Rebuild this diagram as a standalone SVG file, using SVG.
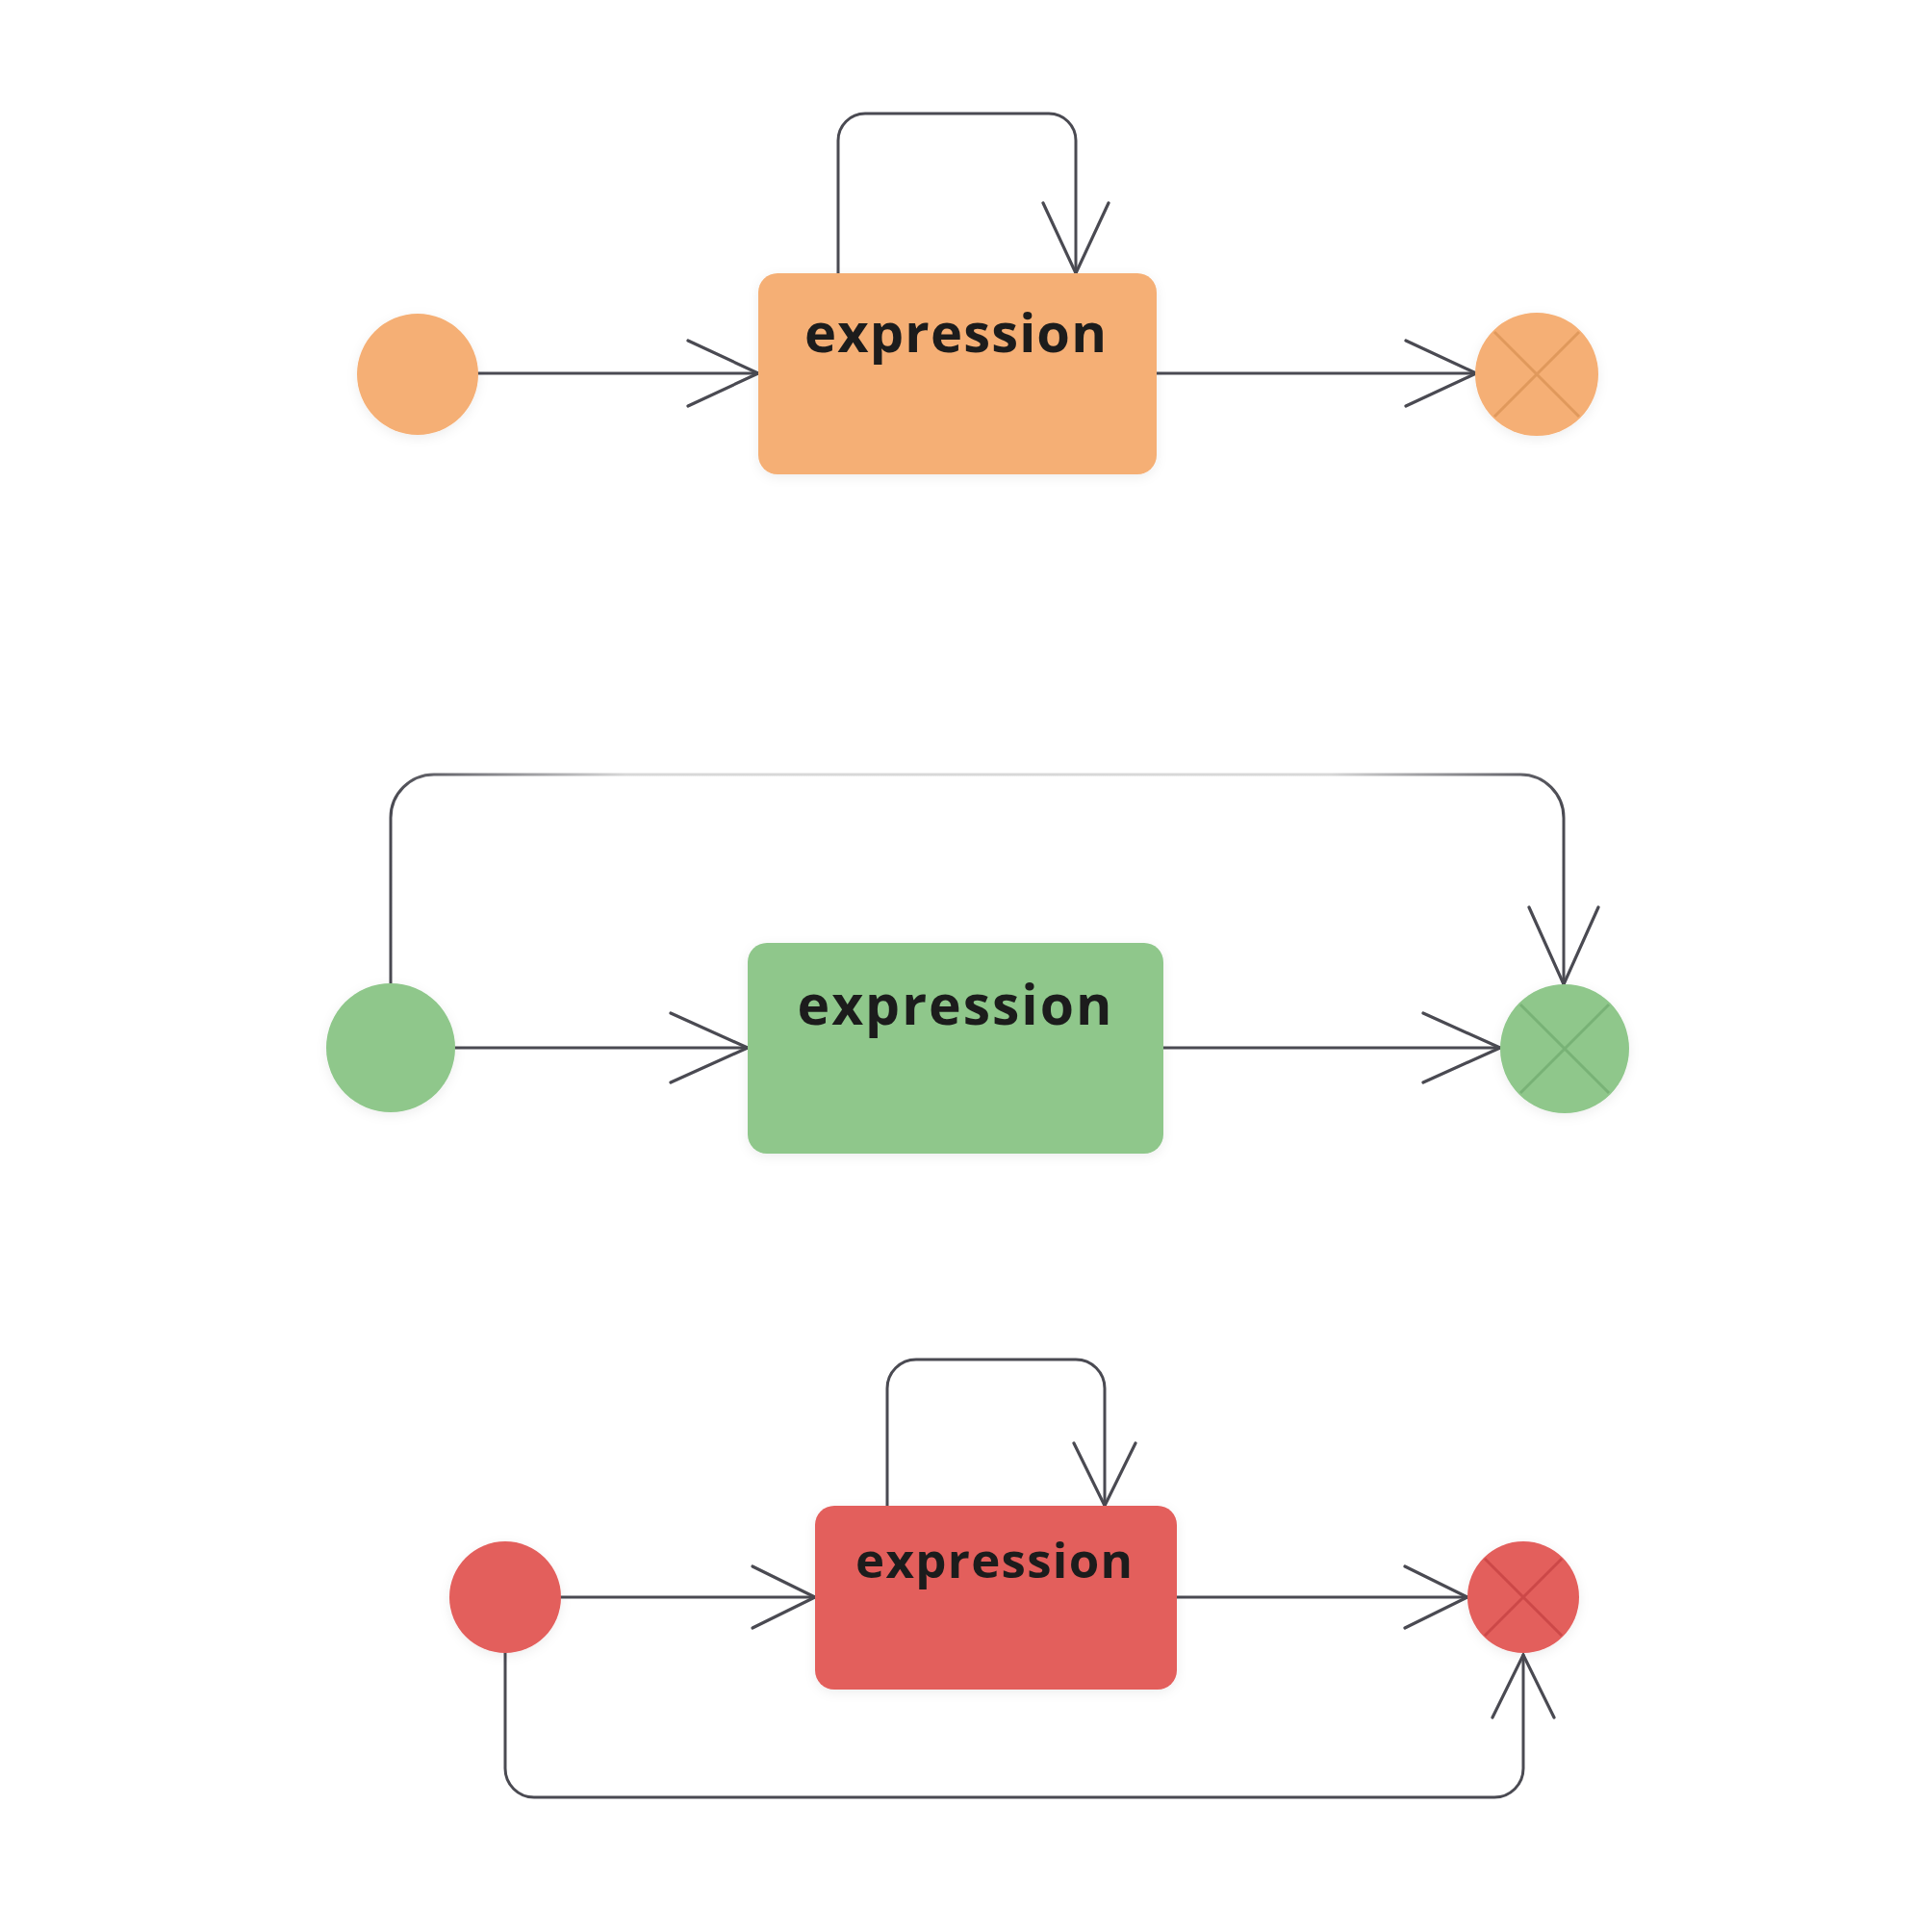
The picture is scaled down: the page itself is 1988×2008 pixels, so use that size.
<svg xmlns="http://www.w3.org/2000/svg" width="1988" height="2008" viewBox="0 0 1988 2008">
  <style>
    .conn { fill: none; stroke: #4a4a52; stroke-width: 3; stroke-linecap: round; stroke-linejoin: round; }
    .head { fill: none; stroke: #4a4a52; stroke-width: 3.2; stroke-linecap: round; stroke-linejoin: miter; }
    .label { font-family: "Open Sans", "Noto Sans", "Liberation Sans", sans-serif; font-weight: 700; fill: #1c1c1c; text-anchor: middle; }
    .orange { fill: #F5AF74; }
    .green { fill: #8FC78B; }
    .red { fill: #E35E5C; }
    .xo { stroke: #E0995C; stroke-width: 3; }
    .xg { stroke: #78B276; stroke-width: 3; }
    .xr { stroke: #CC4848; stroke-width: 3; }
  </style>
  <defs>
    <filter id="soft" x="-20%" y="-20%" width="140%" height="140%">
      <feDropShadow dx="0" dy="3" stdDeviation="6" flood-color="#000" flood-opacity="0.07"/>
    </filter>
    <marker id="a1" viewBox="-90 -45 100 90" markerWidth="100" markerHeight="90" refX="0" refY="0" orient="auto" markerUnits="userSpaceOnUse" overflow="visible">
      <path class="head" d="M-73,-34 L0,0 L-73,34"/>
    </marker>
    <marker id="a2" viewBox="-90 -45 100 90" markerWidth="100" markerHeight="90" refX="0" refY="0" orient="auto" markerUnits="userSpaceOnUse" overflow="visible">
      <path class="head" d="M-80,-36 L0,0 L-80,36"/>
    </marker>
    <marker id="a3" viewBox="-90 -45 100 90" markerWidth="100" markerHeight="90" refX="0" refY="0" orient="auto" markerUnits="userSpaceOnUse" overflow="visible">
      <path class="head" d="M-65,-32 L0,0 L-65,32"/>
    </marker>
    <linearGradient id="fadeTop" x1="0" y1="0" x2="1" y2="0">
      <stop offset="0" stop-color="#4a4a52"/>
      <stop offset="0.2" stop-color="#d8d8d8"/>
      <stop offset="0.8" stop-color="#d8d8d8"/>
      <stop offset="1" stop-color="#4a4a52"/>
    </linearGradient>
  </defs>

  <rect width="1988" height="2008" fill="#ffffff"/>

  <g id="connectors">
    <!-- diagram 1 -->
    <path class="conn" d="M497,388 H788" marker-end="url(#a1)"/>
    <path class="conn" d="M1202,388 H1534" marker-end="url(#a1)"/>
    <path class="conn" d="M871,284 V146 A28,28 0 0 1 899,118 H1090 A28,28 0 0 1 1118,146 V284" marker-end="url(#a1)"/>
    <!-- diagram 2 -->
    <path class="conn" d="M473,1089 H777" marker-end="url(#a2)"/>
    <path class="conn" d="M1209,1089 H1559" marker-end="url(#a2)"/>
    <path class="conn" d="M406,1022 V850 A45,45 0 0 1 451,805 H1580 A45,45 0 0 1 1625,850 V1023" stroke="url(#fadeTop)" style="stroke:url(#fadeTop)" marker-end="url(#a2)"/>
    <!-- diagram 3 -->
    <path class="conn" d="M583,1660 H847" marker-end="url(#a3)"/>
    <path class="conn" d="M1223,1660 H1525" marker-end="url(#a3)"/>
    <path class="conn" d="M922,1565 V1443 A30,30 0 0 1 952,1413 H1118 A30,30 0 0 1 1148,1443 V1565" marker-end="url(#a3)"/>
    <path class="conn" d="M525,1718 V1838 A30,30 0 0 0 555,1868 H1553 A30,30 0 0 0 1583,1838 V1720" marker-end="url(#a3)"/>
  </g>

  <!-- diagram 1: orange -->
  <g id="start1">
    <circle class="orange" cx="434" cy="389" r="63" filter="url(#soft)"/>
  </g>
  <g id="expr1">
    <rect class="orange" x="788" y="284" width="414" height="209" rx="20" filter="url(#soft)"/>
    <text class="label" x="993" y="366" font-size="56" textLength="314" lengthAdjust="spacing">expression</text>
  </g>
  <g id="end1">
    <circle class="orange" cx="1597" cy="389" r="64" filter="url(#soft)"/>
    <path class="xo" d="M1553,345 L1641,433 M1641,345 L1553,433"/>
  </g>

  <!-- diagram 2: green -->
  <g id="start2">
    <circle class="green" cx="406" cy="1089" r="67" filter="url(#soft)"/>
  </g>
  <g id="expr2">
    <rect class="green" x="777" y="980" width="432" height="219" rx="20" filter="url(#soft)"/>
    <text class="label" x="992" y="1065" font-size="57" textLength="327" lengthAdjust="spacing">expression</text>
  </g>
  <g id="end2">
    <circle class="green" cx="1626" cy="1090" r="67" filter="url(#soft)"/>
    <path class="xg" d="M1580,1044 L1672,1136 M1672,1044 L1580,1136"/>
  </g>

  <!-- diagram 3: red -->
  <g id="start3">
    <circle class="red" cx="525" cy="1660" r="58" filter="url(#soft)"/>
  </g>
  <g id="expr3">
    <rect class="red" x="847" y="1565" width="376" height="191" rx="20" filter="url(#soft)"/>
    <text class="label" x="1033" y="1640" font-size="51" textLength="288" lengthAdjust="spacing">expression</text>
  </g>
  <g id="end3">
    <circle class="red" cx="1583" cy="1660" r="58" filter="url(#soft)"/>
    <path class="xr" d="M1543,1620 L1623,1700 M1623,1620 L1543,1700"/>
  </g>
</svg>
